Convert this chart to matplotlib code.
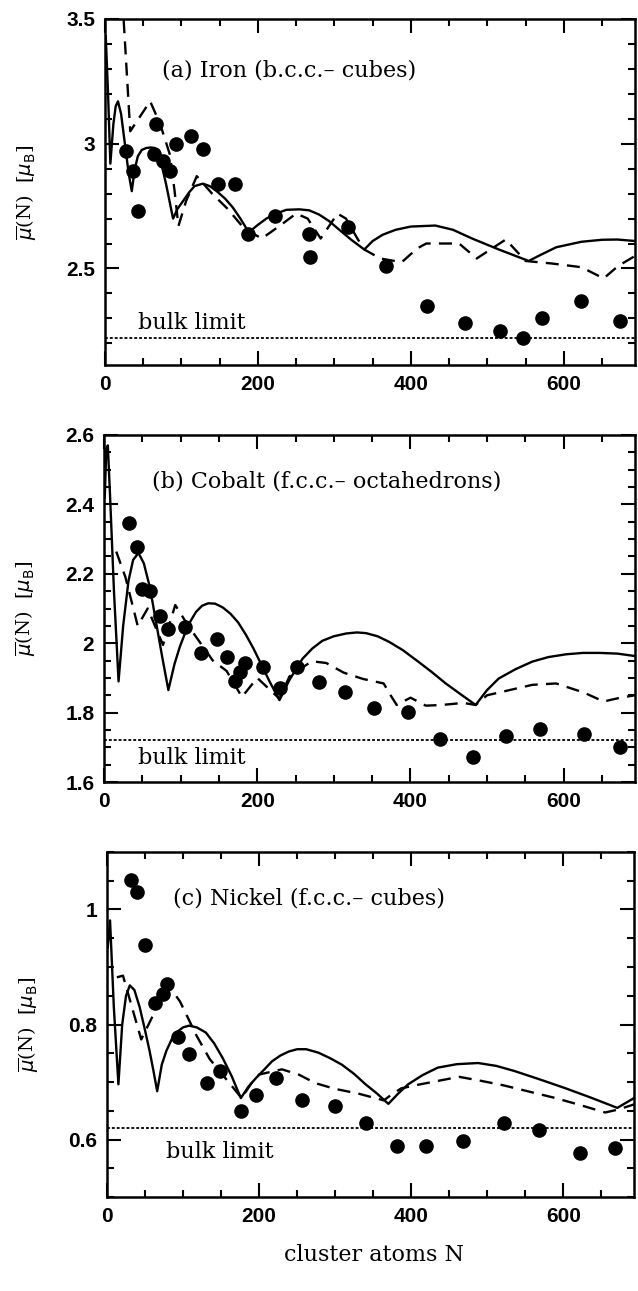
import matplotlib
matplotlib.use("Agg")
import matplotlib.pyplot as plt
from matplotlib.ticker import MultipleLocator, FuncFormatter

# ---------------- data ----------------
# (a) Iron (b.c.c. cubes)
fe_exp_N = [27, 36, 43, 64, 67, 76, 85, 93, 112, 128, 148, 170, 187, 222, 267, 268,
            318, 368, 421, 471, 517, 546, 571, 623, 673]
fe_exp_mu = [2.97, 2.89, 2.73, 2.96, 3.08, 2.93, 2.89, 3.00, 3.03, 2.98, 2.84, 2.84, 2.64,
             2.71, 2.64, 2.545, 2.665, 2.51, 2.35, 2.28, 2.25, 2.22, 2.30, 2.37, 2.29]
fe_solid_N = [1, 4, 7, 11, 14, 17, 21, 26, 31, 35, 39, 43, 48, 54, 60, 65, 72, 80, 89,
              95, 102, 110, 117, 128, 137, 146, 157, 167, 177, 188,
              200, 211, 224, 237, 254, 267, 280, 293, 306, 322, 339,
              350, 363, 380, 400, 432, 455, 480, 515, 554,
              570, 590, 623, 650, 670, 693]
fe_solid_mu = [3.43, 3.20, 2.92, 3.08, 3.15, 3.17, 3.12, 3.00, 2.88, 2.81, 2.90, 2.95,
               2.975, 2.983, 2.985, 2.983, 2.943, 2.836, 2.70,
               2.74, 2.77, 2.805, 2.83, 2.84, 2.83, 2.81, 2.78, 2.745, 2.70, 2.645,
               2.675, 2.70, 2.72, 2.735, 2.737, 2.733, 2.716, 2.69, 2.656, 2.615, 2.576,
               2.61, 2.635, 2.655, 2.668, 2.672, 2.655, 2.62, 2.576, 2.53,
               2.555, 2.585, 2.607, 2.615, 2.616, 2.61]
fe_dash_N = [22, 33, 59, 72, 85, 91, 96, 106, 120, 140, 160, 182, 205, 228, 250, 265, 282,
             304, 315, 330, 339, 360, 388, 408, 420, 463, 486, 524, 550, 584, 623, 652, 671, 693]
fe_dash_mu = [3.62, 3.05, 3.17, 3.08, 2.955, 2.81, 2.67, 2.77, 2.87, 2.80, 2.74, 2.66, 2.62,
              2.67, 2.72, 2.70, 2.62, 2.72, 2.70, 2.62, 2.576, 2.54, 2.525, 2.58, 2.60, 2.60,
              2.54, 2.616, 2.53, 2.52, 2.505, 2.46, 2.51, 2.55]
fe_bulk = 2.22

# (b) Cobalt (f.c.c. octahedrons)
co_exp_N = [32, 43, 49, 60, 73, 83, 106, 127, 148, 161, 171, 177, 184, 208, 230, 252, 281,
            314, 352, 397, 438, 481, 525, 569, 626, 674]
co_exp_mu = [2.347, 2.278, 2.155, 2.151, 2.078, 2.04, 2.046, 1.973, 2.011, 1.961, 1.891,
             1.918, 1.942, 1.932, 1.87, 1.932, 1.889, 1.86, 1.812, 1.803, 1.723, 1.671,
             1.733, 1.752, 1.738, 1.702]
co_solid_N = [1, 3, 5, 8, 13, 19, 25, 32, 38, 45, 52, 60, 68, 76, 84,
              92, 99, 106, 112, 120, 128, 136, 145, 155, 165, 175, 185, 195, 205, 216, 229,
              242, 259, 272, 285, 300, 316, 330, 342, 357, 372, 390, 407, 426, 446, 466, 485,
              500, 515, 537, 559, 580, 603, 625, 647, 670, 693]
co_solid_mu = [2.42, 2.56, 2.57, 2.42, 2.15, 1.89, 2.05, 2.18, 2.24, 2.26, 2.23, 2.16, 2.06,
               1.96, 1.865,
               1.94, 1.99, 2.03, 2.06, 2.09, 2.108, 2.115, 2.114, 2.103, 2.085, 2.06, 2.025,
               1.985, 1.94, 1.89, 1.836,
               1.894, 1.955, 1.985, 2.007, 2.02, 2.028, 2.031, 2.029, 2.02, 2.004, 1.98,
               1.952, 1.92, 1.884, 1.852, 1.822,
               1.865, 1.898, 1.925, 1.947, 1.96, 1.968, 1.972, 1.972, 1.97, 1.963]
co_dash_N = [16, 28, 44, 57, 77, 93, 110, 142, 160, 180, 200, 229, 242, 271, 290, 313, 338,
             365, 374, 382, 400, 420, 441, 469, 485, 500, 559, 590, 626, 652, 672, 693]
co_dash_mu = [2.264, 2.19, 2.05, 2.10, 1.995, 2.11, 2.05, 1.95, 1.92, 1.845, 1.90, 1.84,
              1.904, 1.948, 1.943, 1.915, 1.897, 1.884, 1.85, 1.822, 1.843, 1.82, 1.822,
              1.828, 1.822, 1.85, 1.88, 1.884, 1.858, 1.832, 1.842, 1.85]
co_bulk = 1.72

# (c) Nickel (f.c.c. cubes)
ni_exp_N = [31, 39, 50, 63, 73, 79, 94, 108, 132, 149, 176, 196, 222, 256, 300, 341, 381,
            420, 468, 522, 568, 622, 668]
ni_exp_mu = [1.051, 1.030, 0.939, 0.838, 0.853, 0.870, 0.778, 0.749, 0.698, 0.720, 0.649,
             0.678, 0.707, 0.668, 0.658, 0.629, 0.588, 0.588, 0.598, 0.628, 0.617, 0.577,
             0.586]
ni_solid_N = [1, 4, 9, 15, 20, 25, 30, 36, 43, 50, 56, 61, 66,
              72, 78, 85, 91, 100, 108, 118, 130, 141, 152, 164, 176,
              186, 196, 207, 217, 228, 239, 250, 262, 278, 294, 309, 325, 340, 355, 370,
              383, 396, 415, 435, 460, 488, 512, 536, 568, 601, 636, 671, 693]
ni_solid_mu = [0.934, 0.981, 0.83, 0.696, 0.80, 0.85, 0.868, 0.86, 0.83, 0.79, 0.754,
               0.72, 0.684,
               0.73, 0.754, 0.774, 0.786, 0.795, 0.798, 0.795, 0.786, 0.767, 0.742, 0.71,
               0.672,
               0.692, 0.707, 0.722, 0.736, 0.746, 0.753, 0.757, 0.757, 0.751, 0.741, 0.730,
               0.714, 0.696, 0.68, 0.662,
               0.68, 0.696, 0.712, 0.725, 0.731, 0.733, 0.728, 0.719, 0.705, 0.69, 0.673,
               0.655, 0.672]
ni_dash_N = [13, 21, 35, 45, 62, 80, 96, 118, 135, 166, 177, 190, 200, 230, 252, 274, 300,
             330, 364, 374, 387, 412, 463, 492, 522, 553, 590, 622, 655, 672, 693]
ni_dash_mu = [0.882, 0.885, 0.82, 0.774, 0.82, 0.870, 0.84, 0.78, 0.74, 0.69, 0.672, 0.698,
              0.713, 0.722, 0.713, 0.698, 0.688, 0.68, 0.668, 0.678, 0.689, 0.696, 0.709,
              0.702, 0.694, 0.684, 0.672, 0.66, 0.647, 0.652, 0.661]
ni_bulk = 0.62

titles = ["(a) Iron (b.c.c.\u2013 cubes)", "(b) Cobalt (f.c.c.\u2013 octahedrons)",
          "(c) Nickel (f.c.c.\u2013 cubes)"]

# ---------------- figure ----------------
W, H = 638, 1291
fig = plt.figure(figsize=(W / 100, H / 100), dpi=100)

def frac(l, t, r, b):
    return [l / W, 1 - b / H, (r - l) / W, (b - t) / H]

panels = [
    dict(rect=frac(105, 19, 635, 365), ylim=(2.113, 3.5), major=0.5, minor=0.1,
         N=fe_exp_N, mu=fe_exp_mu, sN=fe_solid_N, smu=fe_solid_mu, dN=fe_dash_N,
         dmu=fe_dash_mu, bulk=fe_bulk, title=titles[0], tpos=(162, 70), bpos=(138, 323)),
    dict(rect=frac(104, 435, 635, 782), ylim=(1.6, 2.6), major=0.2, minor=0.05,
         N=co_exp_N, mu=co_exp_mu, sN=co_solid_N, smu=co_solid_mu, dN=co_dash_N,
         dmu=co_dash_mu, bulk=co_bulk, title=titles[1], tpos=(152, 482), bpos=(138, 758)),
    dict(rect=frac(107, 852, 634, 1197), ylim=(0.5, 1.1), major=0.2, minor=0.05,
         N=ni_exp_N, mu=ni_exp_mu, sN=ni_solid_N, smu=ni_solid_mu, dN=ni_dash_N,
         dmu=ni_dash_mu, bulk=ni_bulk, title=titles[2], tpos=(173, 898), bpos=(166, 1152)),
]

def fmt(v, pos):
    return ("%.2f" % v).rstrip("0").rstrip(".")

for p in panels:
    ax = fig.add_axes(p["rect"])
    ax.set_xlim(0, 693)
    ax.set_ylim(*p["ylim"])
    ax.plot(p["sN"], p["smu"], color="black", lw=1.7, solid_joinstyle="round")
    ax.plot(p["dN"], p["dmu"], color="black", lw=1.7, linestyle=(0, (5.5, 3.5)))
    ax.plot(p["N"], p["mu"], "o", color="black", ms=9.5)
    ax.axhline(p["bulk"], color="black", lw=1.3, linestyle=(0, (1.6, 1.1)))
    ax.xaxis.set_major_locator(MultipleLocator(200))
    ax.xaxis.set_minor_locator(MultipleLocator(50))
    ax.yaxis.set_major_locator(MultipleLocator(p["major"]))
    ax.yaxis.set_minor_locator(MultipleLocator(p["minor"]))
    ax.yaxis.set_major_formatter(FuncFormatter(fmt))
    ax.xaxis.set_major_formatter(FuncFormatter(fmt))
    ax.tick_params(which="both", direction="in", top=True, right=True, width=1.5)
    ax.tick_params(which="major", length=10, pad=7)
    ax.tick_params(which="minor", length=5)
    for lab in ax.get_xticklabels() + ax.get_yticklabels():
        lab.set_fontfamily("Liberation Sans")
        lab.set_fontweight("bold")
        lab.set_fontsize(15)
    for s in ax.spines.values():
        s.set_linewidth(1.8)
    ax.set_ylabel(r"$\overline{\mu}$(N)  [$\mu_{\rm B}$]", fontsize=14,
                  family="DejaVu Serif")
    ax.yaxis.set_label_coords(-0.125, 0.5)
    tx, ty = p["tpos"]
    fig.text(tx / W, 1 - ty / H, p["title"], fontsize=16, family="DejaVu Serif",
             ha="left", va="center")
    bx, by = p["bpos"]
    fig.text(bx / W, 1 - by / H, "bulk limit", fontsize=16, family="DejaVu Serif",
             ha="left", va="center")

fig.text(374 / W, 1 - 1255 / H, "cluster atoms N", fontsize=16, family="DejaVu Serif",
         ha="center", va="center")

fig.savefig("out.png", dpi=100)
